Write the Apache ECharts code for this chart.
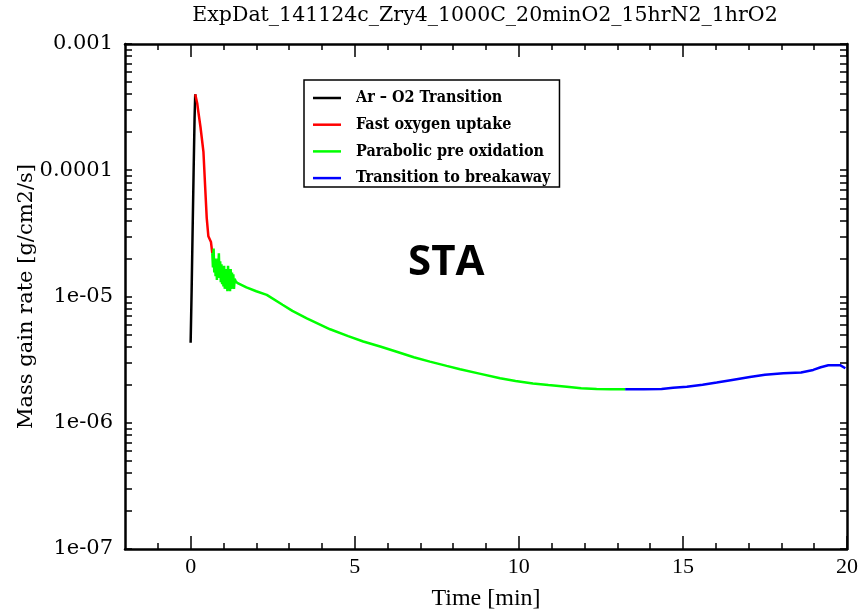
<!DOCTYPE html>
<html>
<head>
<meta charset="utf-8">
<script src="https://cdn.jsdelivr.net/npm/echarts@6/dist/echarts.min.js"></script>
<style>
  html, body { margin: 0; padding: 0; background: #fff; }
  #chart { width: 861px; height: 614px; }
</style>
</head>
<body>
<div id="chart"></div>
<script>
// Mass gain rate of Zry-4 at 1000 °C, split into oxidation stages.
const chartTitle = 'ExpDat_141124c_Zry4_1000C_20minO2_15hrN2_1hrO2';

// Ar - O2 transition
const arTime = [0.00, 0.03, 0.06, 0.09, 0.12, 0.14];
const arRate = [4.3e-6, 1.1e-5, 3.3e-5, 9.5e-5, 2.6e-4, 4.0e-4];

// Fast oxygen uptake
const fastTime = [0.14, 0.20, 0.235, 0.30, 0.34, 0.39, 0.44, 0.49, 0.54, 0.58, 0.62, 0.66];
const fastRate = [4.0e-4, 3.4e-4, 2.9e-4, 2.2e-4, 1.8e-4, 1.4e-4, 7.6e-5, 4.2e-5, 3.0e-5, 2.9e-5, 2.7e-5, 2.2e-5];

// Parabolic pre oxidation
const paraTime = [0.66, 0.68, 0.70, 0.72, 0.74, 0.76, 0.78, 0.80, 0.82, 0.84, 0.86, 0.88, 0.90, 0.92, 0.94, 0.96, 0.98,
  1.00, 1.02, 1.04, 1.06, 1.08, 1.10, 1.12, 1.14, 1.16, 1.18, 1.20, 1.22, 1.24, 1.26, 1.28, 1.30, 1.32, 1.34, 1.38,
  1.45, 1.7, 2.0, 2.32, 2.8, 3.1, 3.54, 4.25, 4.8, 5.26, 5.8, 6.28, 6.8, 7.29, 7.8, 8.21,
  8.8, 9.43, 9.9, 10.43, 10.9, 11.46, 11.9, 12.37, 12.8, 13.24];
const paraRate = [2.2e-5, 1.7e-5, 2.4e-5, 1.55e-5, 2.0e-5, 1.45e-5, 1.9e-5, 1.35e-5, 2.0e-5, 1.5e-5, 2.2e-5, 1.4e-5, 1.9e-5, 1.3e-5, 1.8e-5, 1.25e-5, 1.7e-5,
  1.2e-5, 1.75e-5, 1.15e-5, 1.65e-5, 1.2e-5, 1.6e-5, 1.1e-5, 1.75e-5, 1.15e-5, 1.55e-5, 1.1e-5, 1.65e-5, 1.15e-5, 1.55e-5, 1.2e-5, 1.5e-5, 1.15e-5, 1.38e-5, 1.31e-5,
  1.27e-5, 1.18e-5, 1.1e-5, 1.03e-5, 8.6e-6, 7.7e-6, 6.72e-6, 5.5e-6, 4.85e-6, 4.4e-6, 4.0e-6, 3.65e-6, 3.3e-6, 3.05e-6, 2.82e-6, 2.65e-6,
  2.45e-6, 2.25e-6, 2.14e-6, 2.05e-6, 1.99e-6, 1.93e-6, 1.88e-6, 1.85e-6, 1.84e-6, 1.84e-6];

// Transition to breakaway
const breakTime = [13.24, 13.8, 14.35, 14.7, 15.12, 15.6, 16.03, 16.5, 17.04, 17.5, 18.06, 18.6, 18.97, 19.2, 19.43, 19.79, 19.95];
const breakRate = [1.84e-6, 1.84e-6, 1.85e-6, 1.89e-6, 1.93e-6, 2.0e-6, 2.08e-6, 2.18e-6, 2.3e-6, 2.4e-6, 2.47e-6, 2.5e-6, 2.62e-6, 2.75e-6, 2.85e-6, 2.86e-6, 2.7e-6];

const seriesNames = ['Ar \u2013 O2 Transition', 'Fast oxygen uptake', 'Parabolic pre oxidation', 'Transition to breakaway'];
const seriesColors = ['#000000', '#ff0000', '#00ff00', '#0000ff'];

// Axis ticks and labels
const xMajorTicks = [0, 5, 10, 15, 20];
const xMinorTicks = [-1, 1, 2, 3, 4, 6, 7, 8, 9, 11, 12, 13, 14, 16, 17, 18, 19];
const yDecades = [1e-7, 1e-6, 1e-5, 1e-4, 1e-3];
const yTickLabels = ['1e-07', '1e-06', '1e-05', '0.0001', '0.001'];
const yMinorTicks = [];
for (let d = -7; d < -3; d++) {
  for (let m = 2; m <= 9; m++) yMinorTicks.push(m * Math.pow(10, d));
}

const pairs = (t, v) => t.map((x, i) => [x, v[i]]);
const seriesData = [pairs(arTime, arRate), pairs(fastTime, fastRate), pairs(paraTime, paraRate), pairs(breakTime, breakRate)];

const chart = echarts.init(document.getElementById('chart'), null, { renderer: 'canvas' });

const axisLineStyle = { color: '#000', width: 2.5 };
const tickStyle = { color: '#000', width: 1.5 };

function xAxisDef(position, ticks, len, withLine, withLabels) {
  return {
    type: 'value', position: position, min: -2, max: 20,
    splitLine: { show: false },
    axisLine: { show: withLine, onZero: false, lineStyle: axisLineStyle },
    axisTick: { show: true, inside: true, length: len, customValues: ticks, lineStyle: tickStyle },
    axisLabel: withLabels ? {
      show: true, customValues: xMajorTicks, margin: 7,
      fontFamily: 'Liberation Serif', fontSize: 22, color: '#000'
    } : { show: false },
    name: withLabels ? 'Time [min]' : '',
    nameLocation: 'middle', nameGap: 38,
    nameTextStyle: { fontFamily: 'Liberation Serif', fontSize: 24, color: '#000' }
  };
}

function yAxisDef(position, ticks, len, withLine, withLabels) {
  return {
    type: 'log', logBase: 10, position: position, min: 1e-7, max: 1e-3,
    splitLine: { show: false },
    axisLine: { show: withLine, onZero: false, lineStyle: axisLineStyle },
    axisTick: ticks ? { show: true, inside: true, length: len, customValues: ticks, lineStyle: tickStyle }
                    : { show: true, inside: true, length: len, lineStyle: tickStyle },
    axisLabel: withLabels ? {
      show: true, margin: 12,
      fontFamily: 'DejaVu Serif', fontSize: 21, color: '#000',
      formatter: function (v) {
        const i = yDecades.findIndex(d => Math.abs(Math.log10(d) - Math.log10(v)) < 1e-6);
        return i >= 0 ? yTickLabels[i] : '';
      }
    } : { show: false },
    name: withLabels ? 'Mass gain rate [g/cm2/s]' : '',
    nameLocation: 'middle', nameGap: 88, nameRotate: 90, nameMoveOverlap: false,
    nameTextStyle: { fontFamily: 'DejaVu Serif', fontSize: 21, color: '#000' }
  };
}

chart.setOption({
  animation: false,
  backgroundColor: '#ffffff',
  grid: { left: 125, right: 14, top: 44, bottom: 65, containLabel: false, outerBoundsMode: 'none' },
  legend: {
    orient: 'vertical', left: 304, top: 80,
    data: seriesNames,
    icon: 'rect', itemWidth: 28, itemHeight: 2.5, itemGap: 8.7,
    padding: [9, 9, 0, 9],
    borderColor: '#000', borderWidth: 1.5, backgroundColor: '#fff',
    textStyle: { fontFamily: 'DejaVu Serif Condensed', fontWeight: 'bold', fontSize: 16, color: '#000', lineHeight: 18, padding: [0, 0, 0, 10] }
  },
  graphic: [
    { type: 'text', x: 485, y: 5, style: { text: chartTitle, fontFamily: 'DejaVu Serif', fontSize: 20.5, fill: '#000', textAlign: 'center', textVerticalAlign: 'top' } },
    { type: 'text', x: 408, y: 242, style: { text: 'STA', fontFamily: 'Open Sans', fontWeight: 'bold', fontSize: 42, fill: '#000' } }
  ],
  xAxis: [
    xAxisDef('bottom', xMajorTicks, 13, true, true),
    xAxisDef('bottom', xMinorTicks, 6, false, false),
    xAxisDef('top', xMajorTicks, 13, true, false),
    xAxisDef('top', xMinorTicks, 6, false, false)
  ],
  yAxis: [
    yAxisDef('left', null, 7, true, true),
    yAxisDef('left', yMinorTicks, 7, false, false),
    yAxisDef('right', null, 7, true, false),
    yAxisDef('right', yMinorTicks, 7, false, false)
  ],
  series: seriesNames.map((name, i) => ({
    name: name, type: 'line', xAxisIndex: 0, yAxisIndex: 0,
    data: seriesData[i], showSymbol: false, symbol: 'none',
    lineStyle: { color: seriesColors[i], width: 2.5 },
    itemStyle: { color: seriesColors[i] },
    emphasis: { disabled: true }
  }))
});
</script>
</body>
</html>
